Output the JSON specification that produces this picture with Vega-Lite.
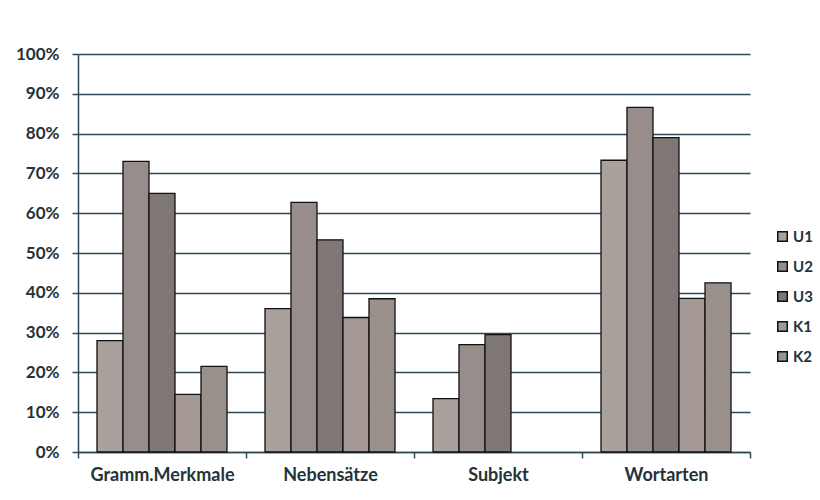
{
  "$schema": "https://vega.github.io/schema/vega-lite/v6.json",
  "autosize": {"type": "none"},
  "width": 672,
  "height": 398,
  "padding": {"left": 78, "top": 54, "right": 70, "bottom": 48},
  "background": "white",
  "data": {
    "values": [
      {"kategorie": "Gramm.Merkmale", "gruppe": "U1", "anteil": 0.28},
      {"kategorie": "Gramm.Merkmale", "gruppe": "U2", "anteil": 0.73},
      {"kategorie": "Gramm.Merkmale", "gruppe": "U3", "anteil": 0.65},
      {"kategorie": "Gramm.Merkmale", "gruppe": "K1", "anteil": 0.145},
      {"kategorie": "Gramm.Merkmale", "gruppe": "K2", "anteil": 0.215},
      {"kategorie": "Nebensätze", "gruppe": "U1", "anteil": 0.36},
      {"kategorie": "Nebensätze", "gruppe": "U2", "anteil": 0.627},
      {"kategorie": "Nebensätze", "gruppe": "U3", "anteil": 0.533},
      {"kategorie": "Nebensätze", "gruppe": "K1", "anteil": 0.338},
      {"kategorie": "Nebensätze", "gruppe": "K2", "anteil": 0.385},
      {"kategorie": "Subjekt", "gruppe": "U1", "anteil": 0.134},
      {"kategorie": "Subjekt", "gruppe": "U2", "anteil": 0.27},
      {"kategorie": "Subjekt", "gruppe": "U3", "anteil": 0.295},
      {"kategorie": "Wortarten", "gruppe": "U1", "anteil": 0.733},
      {"kategorie": "Wortarten", "gruppe": "U2", "anteil": 0.866},
      {"kategorie": "Wortarten", "gruppe": "U3", "anteil": 0.79},
      {"kategorie": "Wortarten", "gruppe": "K1", "anteil": 0.386},
      {"kategorie": "Wortarten", "gruppe": "K2", "anteil": 0.425}
    ]
  },
  "mark": {"type": "bar", "stroke": "#111111", "strokeWidth": 1.3},
  "encoding": {
    "x": {
      "field": "kategorie",
      "type": "nominal",
      "sort": ["Gramm.Merkmale", "Nebensätze", "Subjekt", "Wortarten"],
      "scale": {"paddingInner": 0, "paddingOuter": 0},
      "axis": {
        "title": null,
        "labelAngle": 0,
        "tickBand": "extent",
        "tickSize": 6,
        "tickWidth": 1.5,
        "tickColor": "#2e4a55",
        "domainColor": "#2e4a55",
        "domainWidth": 1.5,
        "labelFont": "Lato",
        "labelFontWeight": "bold",
        "labelFontSize": 18,
        "labelColor": "#24323a",
        "labelPadding": 8
      }
    },
    "xOffset": {
      "field": "gruppe",
      "type": "nominal",
      "sort": ["U1", "U2", "U3", "K1", "K2"],
      "scale": {"paddingInner": 0, "paddingOuter": 0.73}
    },
    "y": {
      "field": "anteil",
      "type": "quantitative",
      "scale": {"domain": [0, 1]},
      "axis": {
        "title": null,
        "values": [0, 0.1, 0.2, 0.3, 0.4, 0.5, 0.6, 0.7, 0.8, 0.9, 1],
        "format": ".0%",
        "grid": true,
        "gridColor": "#2e4a55",
        "gridWidth": 1.5,
        "tickSize": 6,
        "tickWidth": 1.5,
        "tickColor": "#2e4a55",
        "domainColor": "#2e4a55",
        "domainWidth": 1.5,
        "labelFont": "Lato",
        "labelFontWeight": "bold",
        "labelFontSize": 17,
        "labelColor": "#24323a",
        "labelPadding": 13
      }
    },
    "fill": {
      "field": "gruppe",
      "type": "nominal",
      "sort": ["U1", "U2", "U3", "K1", "K2"],
      "scale": {
        "domain": ["U1", "U2", "U3", "K1", "K2"],
        "range": ["#aaa09c", "#978d8a", "#7e7775", "#a39894", "#9a908c"]
      },
      "legend": {
        "title": null,
        "orient": "none",
        "legendX": 697,
        "legendY": 175,
        "symbolType": "square",
        "symbolSize": 90,
        "symbolStrokeColor": "#111111",
        "symbolStrokeWidth": 1.5,
        "rowPadding": 13,
        "labelFont": "Lato",
        "labelFontWeight": "bold",
        "labelFontSize": 15,
        "labelColor": "#24323a",
        "labelOffset": 3
      }
    }
  },
  "config": {
    "view": {"stroke": null}
  }
}
